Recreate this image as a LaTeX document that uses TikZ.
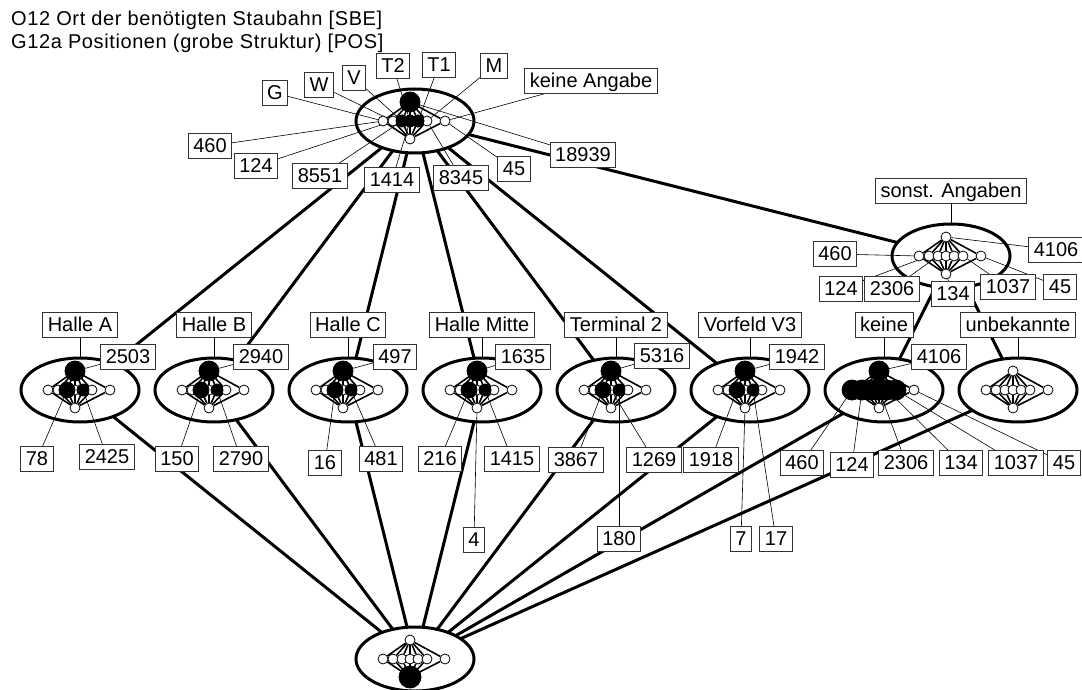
\documentclass[tikz,border=0pt]{standalone}
\usepackage{fontspec}
\setmainfont{Liberation Sans}
\usetikzlibrary{positioning,shapes.geometric}
\pgfdeclarelayer{background}
\pgfsetlayers{background,main}

\begin{document}
\begin{tikzpicture}[
  x=1pt, y=-1pt,
  font=\fontsize{20}{24}\selectfont,
  node distance=16pt,
  ringnode/.style={ellipse, draw=black, line width=3pt, minimum width=118pt, minimum height=64pt, inner sep=0pt, outer sep=0pt},
  dotnode/.style={circle, draw=black, fill=white, line width=0.8pt, minimum size=10pt, inner sep=0pt},
  fulldot/.style={circle, draw=black, fill=black, line width=0.8pt, minimum size=#1, inner sep=0pt},
  fulldot/.default=12pt,
  boxnode/.style={rectangle, draw=black!80, line width=0.8pt, fill=white, inner xsep=5pt, inner ysep=3pt, text height=16pt, text depth=3pt},
  headnode/.style={anchor=base west, inner sep=0pt, font=\fontsize{20}{24}\selectfont\addfontfeature{LetterSpace=3}},
  bond/.style={line width=3pt},
  fan/.style={line width=1.6pt},
  tie/.style={line width=0.6pt}
]
\useasboundingbox (0,0) rectangle (1082,690);

%Title
\node[headnode] (head1) at (11,26) {O12 Ort der benötigten Staubahn [SBE]};
\node[headnode] (head2) at (11,49) {G12a Positionen (grobe Struktur) [POS]};

%Rings
\node[ringnode] (eT) at (415,121) {};
\node[ringnode] (eS) at (951,256) {};
\node[ringnode] (eHA) at (80,390) {};
\node[ringnode, right=of eHA] (eHB) {};
\node[ringnode, right=of eHB] (eHC) {};
\node[ringnode, right=of eHC] (eHM) {};
\node[ringnode, right=of eHM] (eTT) {};
\node[ringnode, right=of eTT] (eVT) {};
\node[ringnode, right=of eVT] (eK) {};
\node[ringnode, right=of eK] (eU) {};
\node[ringnode] (eB) at (415,659) {};

%Inner diagrams
\foreach \e in {eT,eS,eHA,eHB,eHC,eHM,eTT,eVT,eK,eU,eB}{
  \node[dotnode] (\e-t) at ([shift={(-5,-19)}]\e.center) {};
  \node[dotnode] (\e-b) at ([shift={(-5,18)}]\e.center) {};
  \foreach \i/\dx in {1/-32,2/-22,3/-13,4/-5,5/3,6/12,7/30}
    \node[dotnode] (\e-\i) at ([shift={(\dx,0)}]\e.center) {};
}

%Filled nodes
\foreach \n in {eT-t,eHA-t,eHB-t,eHC-t,eHM-t,eTT-t,eVT-t,eK-t}
  \node[fulldot=20pt] at (\n) {};
\foreach \n in {eT-3,eT-4,eT-5}
  \node[fulldot] at (\n) {};
\foreach \e in {eHA,eHB,eHC,eHM,eTT,eVT}{
  \node[fulldot=16pt] at (\e-3) {};
  \node[fulldot] at (\e-5) {};
}
\foreach \i in {1,...,6}
  \node[fulldot=20pt] at (eK-\i) {};
\node[fulldot=22pt] at (eB-b) {};

%Attribute labels
\node[boxnode] (aG) at (275,93) {G};
\node[boxnode] (aW) at (319,85) {W};
\node[boxnode] (aV) at (354,78) {V};
\node[boxnode] (aT2) at (393,66) {T2};
\node[boxnode] (aT1) at (439,65) {T1};
\node[boxnode] (aM) at (494,66) {M};
\node[boxnode] (aKA) at (591,81) {keine Angabe};

\node[boxnode, above=20pt of eS] (lS) {sonst. Angaben};
\node[boxnode, above=20pt of eHA] (lHA) {Halle A};
\node[boxnode, above=20pt of eHB] (lHB) {Halle B};
\node[boxnode, above=20pt of eHC] (lHC) {Halle C};
\node[boxnode, above=20pt of eHM] (lHM) {Halle Mitte};
\node[boxnode, above=20pt of eTT] (lTT) {Terminal 2};
\node[boxnode, above=20pt of eVT] (lVT) {Vorfeld V3};
\node[boxnode, above=20pt of eK] (lK) {keine};
\node[boxnode, above=20pt of eU] (lU) {unbekannte};

%Counts
\node[boxnode] (cT1) at (210,146) {460};
\node[boxnode] (cT2) at (256,166) {124};
\node[boxnode] (cT3) at (320,176) {8551};
\node[boxnode] (cT4) at (392,180) {1414};
\node[boxnode] (cT5) at (461,178) {8345};
\node[boxnode] (cT6) at (514,169) {45};
\node[boxnode] (cT7) at (583,155) {18939};

\node[boxnode] (cS1) at (835,254) {460};
\node[boxnode] (cS2) at (841,289) {124};
\node[boxnode] (cS3) at (892,289) {2306};
\node[boxnode] (cS4) at (953,294) {134};
\node[boxnode] (cS5) at (1008,287) {1037};
\node[boxnode] (cS6) at (1060,287) {45};
\node[boxnode] (cS7) at (1056,250) {4106};

\node[boxnode] (cHA) at (128,357) {2503};
\node[boxnode] (cHB) at (261,357) {2940};
\node[boxnode] (cHC) at (395,357) {497};
\node[boxnode] (cHM) at (523,357) {1635};
\node[boxnode] (cTT) at (662,356) {5316};
\node[boxnode] (cVT) at (797,357) {1942};
\node[boxnode] (cK) at (939,357) {4106};

\node[boxnode] (dHA1) at (37,459) {78};
\node[boxnode] (dHA2) at (107,457) {2425};
\node[boxnode] (dHB1) at (177,459) {150};
\node[boxnode] (dHB2) at (241,459) {2790};
\node[boxnode] (dHC1) at (325,463) {16};
\node[boxnode] (dHC2) at (381,459) {481};
\node[boxnode] (dHM1) at (440,459) {216};
\node[boxnode] (dHM2) at (512,459) {1415};
\node[boxnode] (dHM3) at (474,540) {4};
\node[boxnode] (dTT1) at (576,460) {3867};
\node[boxnode] (dTT2) at (654,460) {1269};
\node[boxnode] (dTT3) at (619,539) {180};
\node[boxnode] (dVT1) at (711,460) {1918};
\node[boxnode] (dVT2) at (741,539) {7};
\node[boxnode] (dVT3) at (776,539) {17};
\node[boxnode] (dK1) at (802,463) {460};
\node[boxnode] (dK2) at (852,465) {124};
\node[boxnode] (dK3) at (906,463) {2306};
\node[boxnode] (dK4) at (961,463) {134};
\node[boxnode] (dK5) at (1016,463) {1037};
\node[boxnode] (dK6) at (1064,463) {45};

\begin{pgfonlayer}{background}
%Outer lines
\foreach \r in {eHA,eHB,eHC,eHM,eTT,eVT,eS}
  \draw[bond] (eT) -- (\r);
\foreach \r in {eK,eU}
  \draw[bond] (eS) -- (\r);
\foreach \r in {eHA,eHB,eHC,eHM,eTT,eVT,eK,eU}
  \draw[bond] (\r) -- (eB);

%Inner lines
\foreach \e in {eT,eS,eHA,eHB,eHC,eHM,eTT,eVT,eK,eU,eB}
  \foreach \i in {1,...,7}
    \draw[fan] (\e-t) -- (\e-\i) -- (\e-b);

%Label lines
\draw[tie] (aG) -- (eT-1);
\draw[tie] (aW) -- (eT-2);
\draw[tie] (aV) -- (eT-3);
\draw[tie] (aT2) -- (eT-4);
\draw[tie] (aT1) -- (eT-5);
\draw[tie] (aM) -- (eT-6);
\draw[tie] (aKA) -- (eT-7);
\draw[tie] (cT1) -- (eT-1);
\draw[tie] (cT2) -- (eT-2);
\draw[tie] (cT3) -- (eT-3);
\draw[tie] (cT4) -- (eT-4);
\draw[tie] (cT5) -- (eT-6);
\draw[tie] (cT6) -- (eT-7);
\draw[tie] (cT7) -- (eT-t);

\draw[tie] (lS) -- (eS);
\draw[tie] (cS1) -- (eS-1);
\draw[tie] (cS2) -- (eS-2);
\draw[tie] (cS3) -- (eS-3);
\draw[tie] (cS4) -- (eS-b);
\draw[tie] (cS5) -- (eS-6);
\draw[tie] (cS6) -- (eS-7);
\draw[tie] (cS7) -- (eS-t);

\foreach \e/\l/\c in {eHA/lHA/cHA,eHB/lHB/cHB,eHC/lHC/cHC,eHM/lHM/cHM,eTT/lTT/cTT,eVT/lVT/cVT,eK/lK/cK}{
  \draw[tie] (\l) -- (\e);
  \draw[tie] (\c) -- (\e-t);
}
\draw[tie] (lU) -- (eU);

\draw[tie] (dHA1) -- (eHA-3);
\draw[tie] (dHA2) -- (eHA-5);
\draw[tie] (dHB1) -- (eHB-3);
\draw[tie] (dHB2) -- (eHB-5);
\draw[tie] (dHC1) -- (eHC-3);
\draw[tie] (dHC2) -- (eHC-5);
\draw[tie] (dHM1) -- (eHM-3);
\draw[tie] (dHM2) -- (eHM-5);
\draw[tie] (dHM3) -- (eHM-b);
\draw[tie] (dTT1) -- (eTT-3);
\draw[tie] (dTT2) -- (eTT-4);
\draw[tie] (dTT3) -- (eTT-5);
\draw[tie] (dVT1) -- (eVT-3);
\draw[tie] (dVT2) -- (eVT-b);
\draw[tie] (dVT3) -- (eVT-5);
\draw[tie] (dK1) -- (eK-1);
\draw[tie] (dK2) -- (eK-2);
\draw[tie] (dK3) -- (eK-4);
\draw[tie] (dK4) -- (eK-5);
\draw[tie] (dK5) -- (eK-6);
\draw[tie] (dK6) -- (eK-7);
\end{pgfonlayer}

\end{tikzpicture}
\end{document}
